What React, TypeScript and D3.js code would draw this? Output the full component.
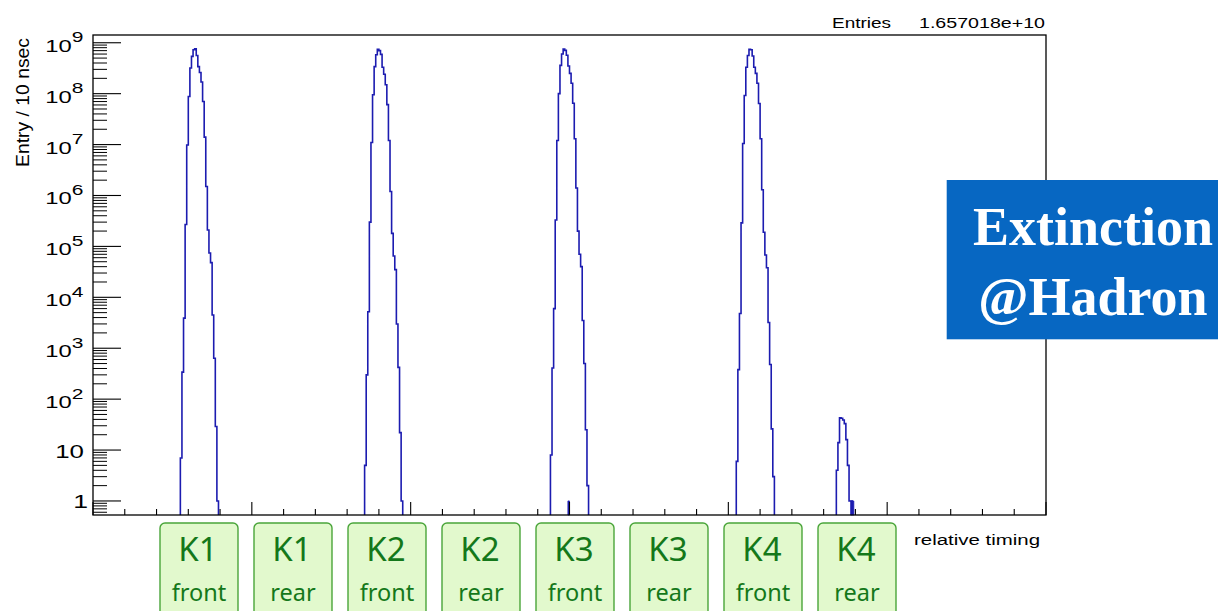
import React from 'react';
import * as d3 from 'd3';

// ---------- data ----------
const binWidthNs = 10;
const xDomain = [0, 6000];
const yDomain = [0.53, 1.42e9];

const k1FrontStart = 550;
const k1FrontCounts = [7, 340, 3900, 2.7e5, 9.8e6, 8.8e7, 3.2e8, 5.4e8, 7.3e8, 7.6e8, 5.6e8, 3.4e8, 2.6e8, 1.7e8, 7.0e7, 1.4e7, 1.5e6, 2.1e5, 7.4e4, 4.8e4, 4.5e3, 635, 29, 1];
const k2FrontStart = 1710;
const k2FrontCounts = [5, 300, 5200, 3.0e5, 1.1e7, 9.5e7, 3.4e8, 5.8e8, 7.4e8, 7.0e8, 5.9e8, 3.3e8, 2.4e8, 1.5e8, 6.1e7, 1.2e7, 1.2e6, 1.8e5, 6.5e4, 3.5e4, 3.0e3, 420, 22, 1];
const k3FrontStart = 2880;
const k3FrontCounts = [8, 410, 6000, 3.3e5, 1.2e7, 1.0e8, 3.6e8, 6.0e8, 7.5e8, 7.1e8, 5.7e8, 3.5e8, 2.5e8, 1.6e8, 6.5e7, 1.3e7, 1.4e6, 2.0e5, 7.0e4, 4.0e4, 3.5e3, 500, 25, 2];
const k4FrontStart = 4050;
const k4FrontCounts = [6, 380, 4800, 2.9e5, 1.05e7, 9.2e7, 3.3e8, 5.6e8, 7.4e8, 7.3e8, 5.5e8, 3.3e8, 2.5e8, 1.6e8, 6.4e7, 1.3e7, 1.3e6, 1.9e5, 6.8e4, 3.8e4, 3.2e3, 480, 26, 3];
const k4RearStart = 4680;
const k4RearCounts = [4, 14, 43, 42, 39, 33, 16, 5, 1, 1];

const filledAStart = 2990;
const filledACounts = [1];
const filledBStart = 4770;
const filledBCounts = [1, 1];

const yDecadeValues = [1, 10, 1e2, 1e3, 1e4, 1e5, 1e6, 1e7, 1e8, 1e9];
const yDecadeExponents = [0, 1, 2, 3, 4, 5, 6, 7, 8, 9];

const xTickStep = 200;
const xMajorStep = 1000;

const boxTopLabels = ['K1', 'K1', 'K2', 'K2', 'K3', 'K3', 'K4', 'K4'];
const boxBottomLabels = ['front', 'rear', 'front', 'rear', 'front', 'rear', 'front', 'rear'];

const entriesLabel = 'Entries';
const entriesValue = '1.657018e+10';
const xTitle = 'relative timing';
const yTitle = 'Entry / 10 nsec';
const bannerLines = ['Extinction', '@Hadron'];

// ---------- layout ----------
const W = 1218, H = 611;
const L = 93, R = 1046, T = 35, B = 515;
const SANS = '"Liberation Sans", Arial, Helvetica, sans-serif';
const HIST = '#1c1cb0';

export default function App() {
  const x = d3.scaleLinear().domain(xDomain).range([L, R]);
  const y = d3.scaleLog().domain(yDomain).range([B, T]).clamp(true);
  const yMin = yDomain[0];

  const series = [
    { start: k1FrontStart, counts: k1FrontCounts },
    { start: k2FrontStart, counts: k2FrontCounts },
    { start: k3FrontStart, counts: k3FrontCounts },
    { start: k4FrontStart, counts: k4FrontCounts },
    { start: k4RearStart, counts: k4RearCounts },
  ];
  const filled = [
    { start: filledAStart, counts: filledACounts },
    { start: filledBStart, counts: filledBCounts },
  ];

  const line = d3.line<[number, number]>()
    .x(d => x(d[0]))
    .y(d => y(d[1]))
    .curve(d3.curveStepAfter);

  const histPts = (start: number, counts: number[]): [number, number][] => {
    const pts: [number, number][] = [[start, yMin]];
    counts.forEach((c, i) => pts.push([start + i * binWidthNs, c]));
    pts.push([start + counts.length * binWidthNs, yMin]);
    return pts;
  };

  const area = d3.area<[number, number]>()
    .x(d => x(d[0]))
    .y0(B)
    .y1(d => y(d[1]))
    .curve(d3.curveStepAfter);

  // y minor ticks
  const yMinor: number[] = [];
  for (let k = -1; k <= 9; k++) {
    for (let m = 2; m <= 9; m++) {
      const v = m * Math.pow(10, k);
      if (v >= yDomain[0] && v <= yDomain[1]) yMinor.push(v);
    }
  }
  const xTicks = d3.range(xDomain[0], xDomain[1] + 1, xTickStep);

  const boxX = d3.scaleLinear().domain([0, boxTopLabels.length - 1]).range([160, 818]);
  const boxW = 78;

  return (
    <div style={{ position: 'absolute', left: 0, top: 0 }}>
      <svg width={W} height={H} style={{ display: 'block', background: '#fff' }}>
        {/* stats */}
        <text x={832} y={28} fontFamily={SANS} fontSize={14} textLength={59} lengthAdjust="spacingAndGlyphs">{entriesLabel}</text>
        <text x={919} y={28} fontFamily={SANS} fontSize={14} textLength={126} lengthAdjust="spacingAndGlyphs">{entriesValue}</text>

        {/* histograms */}
        {filled.map((s, i) => (
          <path key={'f' + i} d={area(s.counts.map((c, j) => [s.start + j * binWidthNs, c] as [number, number]).concat([[s.start + s.counts.length * binWidthNs, s.counts[s.counts.length - 1]]])) || ''} fill={HIST} stroke={HIST} strokeWidth={0.8} />
        ))}
        {series.map((s, i) => (
          <path key={'h' + i} d={line(histPts(s.start, s.counts)) || ''} fill="none" stroke={HIST} strokeWidth={1.6} />
        ))}

        {/* frame */}
        <rect x={L} y={T} width={R - L} height={B - T} fill="none" stroke="#000" strokeWidth={1.3} />

        {/* y ticks */}
        {yDecadeValues.map((v, i) => (
          <line key={'ym' + i} x1={L} x2={L + 28} y1={y(v)} y2={y(v)} stroke="#000" strokeWidth={1.1} />
        ))}
        {yMinor.map((v, i) => (
          <line key={'yn' + i} x1={L} x2={L + 14} y1={y(v)} y2={y(v)} stroke="#000" strokeWidth={1} />
        ))}
        {/* y labels */}
        {yDecadeValues.map((v, i) => {
          const e = yDecadeExponents[i];
          const ty = y(v);
          if (e === 0) {
            return (
              <g key={'yl' + i} transform={`translate(88,${ty + 7.5}) scale(1.4,1)`}>
                <text textAnchor="end" fontFamily={SANS} fontSize={19}>1</text>
              </g>
            );
          }
          if (e === 1) {
            return (
              <g key={'yl' + i} transform={`translate(84,${ty + 8}) scale(1.4,1)`}>
                <text textAnchor="end" fontFamily={SANS} fontSize={18.5}>10</text>
              </g>
            );
          }
          return (
            <g key={'yl' + i} transform={`translate(83.5,${ty + 9}) scale(1.4,1)`}>
              <text textAnchor="end" fontFamily={SANS} fontSize={17}>
                10<tspan dy={-9.5} fontSize={15}>{e}</tspan>
              </text>
            </g>
          );
        })}

        {/* x ticks */}
        {xTicks.map((v, i) => {
          const major = v % xMajorStep === 0;
          return <line key={'xt' + i} x1={x(v)} x2={x(v)} y1={B} y2={B - (major ? 13 : 6)} stroke="#000" strokeWidth={1.1} />;
        })}

        {/* axis titles */}
        <text x={1040} y={545} textAnchor="end" fontFamily={SANS} fontSize={14} textLength={126} lengthAdjust="spacingAndGlyphs">{xTitle}</text>
        <text transform="translate(29,38) rotate(-90)" textAnchor="end" fontFamily={SANS} fontSize={19} textLength={129} lengthAdjust="spacingAndGlyphs">{yTitle}</text>

        {/* green boxes */}
        {boxTopLabels.map((lab, i) => {
          const bx = boxX(i);
          return (
            <g key={'b' + i}>
              <rect x={bx} y={523} width={boxW} height={110} rx={5} fill="#e2f9cd" stroke="#4aa53a" strokeWidth={1.4} />
              <text x={bx + boxW / 2 - 1} y={561} textAnchor="middle" fontFamily='"Noto Sans", "Noto Sans CJK JP", sans-serif' fontSize={33} fill="#14781a">{lab}</text>
              <text x={bx + boxW / 2} y={601} textAnchor="middle" fontFamily='"Noto Sans", "Noto Sans CJK JP", sans-serif' fontSize={23.5} fill="#14781a">{boxBottomLabels[i]}</text>
            </g>
          );
        })}

        {/* banner */}
        <rect x={946.7} y={180} width={W - 946.7} height={159.3} fill="#0767c2" />
        <text x={1093} y={245} textAnchor="middle" fontFamily='"Liberation Serif", "Times New Roman", serif' fontWeight="bold" fontSize={54} fill="#fff">{bannerLines[0]}</text>
        <text x={1093} y={315} textAnchor="middle" fontFamily='"Liberation Serif", "Times New Roman", serif' fontWeight="bold" fontSize={54} fill="#fff">{bannerLines[1]}</text>
      </svg>
    </div>
  );
}
